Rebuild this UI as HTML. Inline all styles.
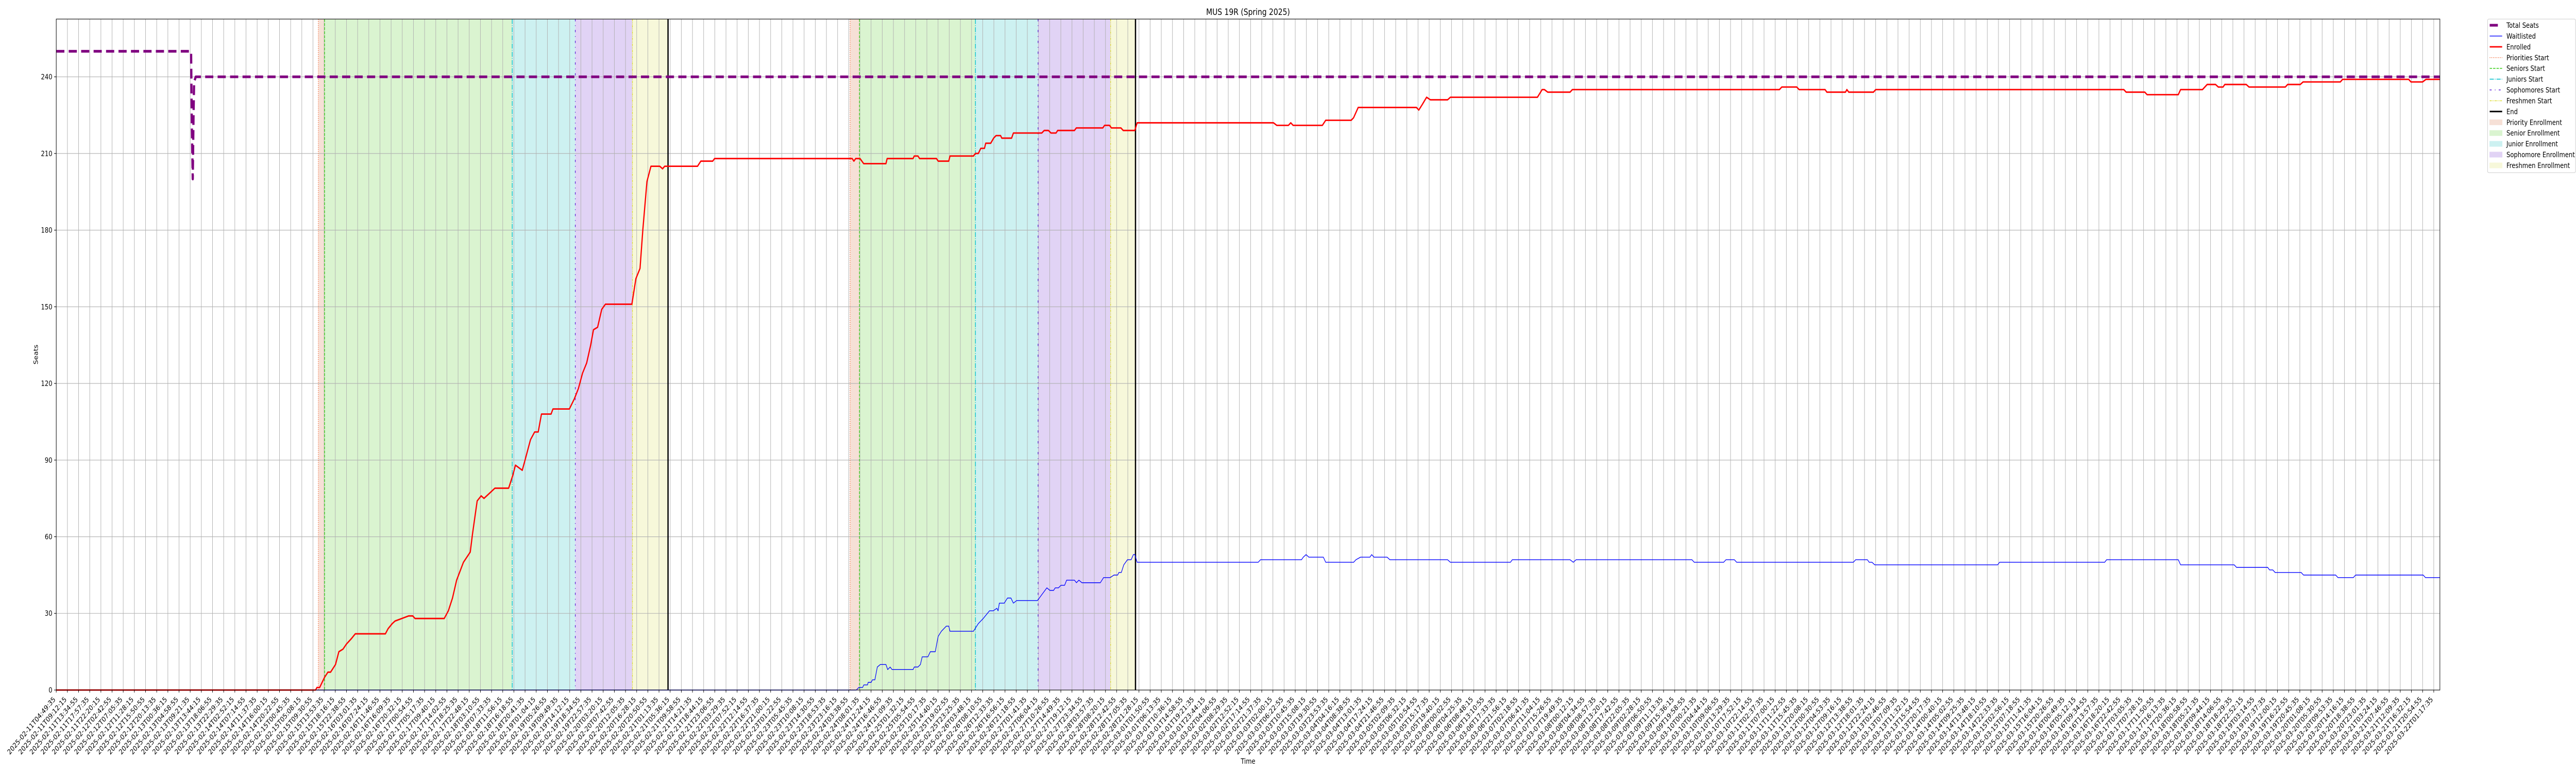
<!DOCTYPE html>
<html><head><meta charset="utf-8"><title>MUS 19R (Spring 2025)</title>
<style>
html,body{margin:0;padding:0;background:#fff;overflow:hidden;width:100%;height:100%;}
svg{display:block;position:absolute;left:0;top:0;width:100vw;height:100vh;overflow:hidden;font-family:"DejaVu Sans","Liberation Sans",sans-serif;}
</style></head>
<body>
<svg id="chart" xmlns="http://www.w3.org/2000/svg" viewBox="0 0 6000 1500" preserveAspectRatio="none">
<rect width="6000" height="1500" fill="#fff"/>
<g id="shades"></g>
<g id="grid"></g>
<g id="vlines"></g>
<g id="series"></g>
<g id="axes"></g>
<text x="2907" y="29" font-size="16.7" text-anchor="middle">MUS 19R (Spring 2025)</text>
<text x="2907" y="1482" font-size="13.9" text-anchor="middle">Time</text>
<text x="0" y="0" font-size="13.9" text-anchor="middle" transform="translate(88,688) rotate(-90)">Seats</text>
<g id="legend"></g>
</svg>
<script>
// ---- data ----
const yTicks = [0,30,60,90,120,150,180,210,240];
const startTime = "2025-02-11T04:49:35";
const tickCount = 214;
const tickStepSeconds = 15760;
const xTickLabels = [];
(function(){
  const t0 = Date.parse(startTime + "Z");
  for (let i = 0; i < tickCount; i++) {
    xTickLabels.push(new Date(t0 + i * tickStepSeconds * 1000).toISOString().slice(0,19));
  }
})();
const seatsIdx = [0,12.08,12.15,12.23,12.3,12.35,12.5,213.55];
const seatsVals = [250,250,220,200,225,238,240,240];
const enrolledIdx = [0,23.23,23.36,23.6,24.04,24.34,24.58,25.02,25.32,25.69,26.0,26.42,26.79,29.49,29.73,30.1,30.35,30.96,31.57,31.94,32.14,34.76,35.13,35.5,35.87,36.48,37.09,37.29,37.71,38.07,38.32,38.81,39.3,40.53,40.9,41.14,41.75,42.0,42.49,42.86,43.18,43.47,44.33,44.5,45.97,46.42,46.78,47.15,47.52,47.88,48.13,48.5,48.87,49.2,49.73,51.57,51.93,52.3,52.55,52.92,53.28,54.07,54.32,54.51,57.45,57.75,58.81,58.98,
71.31,71.46,71.62,72.01,72.34,74.33,74.44,76.76,76.87,77.2,77.35,78.86,79.01,79.96,80.07,82.17,82.35,82.61,82.83,83.16,83.27,83.72,83.98,84.2,84.6,84.71,85.59,85.75,88.29,88.51,88.89,89.12,89.57,89.72,91.22,91.39,93.76,93.92,94.36,94.53,
95.38,95.59,96.63,96.84,109.05,109.35,110.39,110.6,110.81,113.43,113.73,116.02,116.23,116.64,121.86,122.07,122.36,122.77,123.11,124.65,124.9,132.7,133.12,133.32,133.62,135.62,135.83,154.38,154.59,155.93,156.14,158.47,158.63,160.3,160.42,160.59,162.8,163.01,185.23,185.44,187.11,187.32,190.11,190.32,192.28,192.7,193.45,193.7,194.12,194.28,196.2,196.45,199.7,199.91,201.04,201.29,204.63,204.83,210.75,210.96,212.0,212.3,213.55];
const enrolledVals = [0,0,1,1,5,7,7,10,15,16,18,20,22,22,24,26,27,28,29,29,28,28,31,36,43,50,54,61,74,76,75,77,79,79,84,88,86,90,98,101,101,108,108,110,110,114,118,124,128,135,141,142,149,151,151,151,161,165,180,199,205,205,204,205,205,207,207,208,
208,207,208,208,206,206,208,208,209,209,208,208,207,207,209,209,210,210,212,212,214,214,216,217,217,216,216,218,218,219,219,218,218,219,219,220,220,221,221,220,
220,219,219,222,222,221,221,222,221,221,223,223,224,228,228,227,229,232,231,231,232,232,235,235,234,234,235,235,236,236,235,235,234,234,235,234,234,235,235,234,234,233,233,235,235,237,237,236,236,237,237,236,236,237,237,238,238,239,239,238,238,239,239];
const waitIdx = [0,71.68,71.9,72.24,72.35,72.68,72.74,73.01,73.12,73.34,73.56,73.83,74.33,74.49,74.71,74.88,76.76,76.87,77.2,77.42,77.58,78.09,78.31,78.75,79.01,79.3,79.74,79.96,80.07,82.17,82.61,83.05,83.61,83.94,84.27,84.38,84.49,84.93,85.22,85.53,85.75,86.04,87.91,88.24,88.75,89.02,89.35,89.5,89.79,90.01,90.34,90.52,91.22,91.4,91.62,91.89,93.54,93.83,94.42,94.76,95.09,95.2,95.42,95.64,95.97,96.3,96.5,96.63,96.84,107.68,107.89,111.56,111.72,111.97,112.22,113.52,113.73,116.23,116.44,116.85,117.69,117.85,118.06,119.23,119.48,124.65,124.9,130.28,130.45,135.62,135.91,136.16,146.54,146.75,149.38,149.59,150.34,150.55,161.0,161.21,162.26,162.42,162.67,162.92,173.93,174.1,183.52,183.69,190.11,190.32,195.12,195.33,198.12,198.29,198.58,198.79,201.12,201.33,204.21,204.42,205.79,206.0,212.05,212.26,213.55];
const waitVals = [0,0,1,1,2,2,3,3,4,4,9,10,10,8,9,8,8,9,9,10,13,13,15,15,21,23,25,25,23,23,26,28,31,31,32,31,34,34,36,36,34,35,35,37,40,39,39,40,40,41,41,43,43,42,43,42,42,44,44,45,45,46,46,49,51,51,53,53,50,50,51,51,52,53,52,52,50,50,51,52,52,53,52,52,51,51,50,50,51,51,50,51,51,50,50,51,51,50,50,51,51,50,50,49,49,50,50,51,51,49,49,48,48,47,47,46,46,45,45,44,44,45,45,44,44];
const priorityStarts = [23.48,71.12];
const seniorStarts = [24.04,71.96];
const juniorStarts = [40.85,82.35];
const sophomoreStarts = [46.5,87.96];
const freshmenStarts = [51.62,94.46];
const endPoints = [54.81,96.69];

// ---- layout ----
const NS = "http://www.w3.org/2000/svg";
const L = 131, R = 5683, T = 37, B = 1339;
const xMax = 213.55, yMax = 262.6;
function xs(i){ return L + i * (R - L) / xMax; }
function ys(v){ return B - v * (B - T) / yMax; }
function mk(tag, attrs, parent){
  const e = document.createElementNS(NS, tag);
  for (const k in attrs) e.setAttribute(k, attrs[k]);
  parent.appendChild(e);
  return e;
}
const gShade = document.getElementById('shades');
const gGrid = document.getElementById('grid');
const gV = document.getElementById('vlines');
const gS = document.getElementById('series');
const gA = document.getElementById('axes');
const gL = document.getElementById('legend');

const phaseColors = ['#f6e0d6','#daf4d0','#cdf1f1','#e1d3f5','#f7f8da'];
const phaseNames = ['priority-enrollment-span','senior-enrollment-span','junior-enrollment-span','sophomore-enrollment-span','freshmen-enrollment-span'];
const bounds = [priorityStarts, seniorStarts, juniorStarts, sophomoreStarts, freshmenStarts, endPoints];
for (let c = 0; c < 2; c++) {
  for (let p = 0; p < 5; p++) {
    const x0 = xs(bounds[p][c]), x1 = xs(bounds[p+1][c]);
    const r = mk('rect', {x:x0, y:T, width:x1-x0, height:B-T, fill:phaseColors[p]}, gShade);
    
    
  }
}

for (let i = 0; i < tickCount; i++) {
  const x = xs(i);
  const l = mk('line', {x1:x, x2:x, y1:T, y2:B, stroke:'#b0b0b0', 'stroke-width':1.1}, gGrid);
  
  
}
yTicks.forEach(v => {
  const y = ys(v);
  const l = mk('line', {x1:L, x2:R, y1:y, y2:y, stroke:'#b0b0b0', 'stroke-width':1.1}, gGrid);
  
  
});

const vStyles = [
  {arr:priorityStarts, color:'#f26b3a', dash:'1.5,2.5', w:1.5, name:'priorities-start-line'},
  {arr:seniorStarts, color:'#33cc11', dash:'5.5,2.4', w:1.5, name:'seniors-start-line'},
  {arr:juniorStarts, color:'#17c5d0', dash:'9.6,2.4,1.5,2.4', w:1.8, name:'juniors-start-line'},
  {arr:sophomoreStarts, color:'#5d1fd8', dash:'4.5,7.5,1.5,7.5', w:1.5, name:'sophomores-start-line'},
  {arr:freshmenStarts, color:'#dede30', dash:'4.5,1.5,1.5,1.5,1.5,1.5', w:1.5, name:'freshmen-start-line'},
  {arr:endPoints, color:'#000', dash:'', w:3, name:'end-line'}
];
vStyles.forEach(s => {
  s.arr.forEach(v => {
    const x = xs(v);
    const l = mk('line', {x1:x, x2:x, y1:T, y2:B, stroke:s.color, 'stroke-width':s.w}, gV);
    if (s.dash) l.setAttribute('stroke-dasharray', s.dash);
    
    
  });
});

function pts(ix, vals){ return ix.map((i,k) => xs(i).toFixed(2) + ',' + ys(vals[k]).toFixed(2)).join(' '); }
const seatsLine = mk('polyline', {points:pts(seatsIdx, seatsVals), fill:'none', stroke:'#800080', 'stroke-width':5.2, 'stroke-dasharray':'19,10', 'stroke-linejoin':'round'}, gS);


const waitLine = mk('polyline', {points:pts(waitIdx, waitVals), fill:'none', stroke:'#0000ff', 'stroke-width':1.4, 'stroke-linejoin':'round'}, gS);


const enrLine = mk('polyline', {points:pts(enrolledIdx, enrolledVals), fill:'none', stroke:'#ff0000', 'stroke-width':2.8, 'stroke-linejoin':'round'}, gS);



const frame = mk('rect', {x:L, y:T, width:R-L, height:B-T, fill:'none', stroke:'#000', 'stroke-width':1.1}, gA);


yTicks.forEach(v => {
  const y = ys(v);
  const t = mk('line', {x1:L-4.9, x2:L, y1:y, y2:y, stroke:'#000', 'stroke-width':1.1}, gA);
  
  
  const tx = mk('text', {x:L-9, y:y+5, 'font-size':13.9, 'text-anchor':'end'}, gA);
  tx.textContent = String(v);
  
  
});
xTickLabels.forEach((lab, i) => {
  const x = xs(i);
  const t = mk('line', {x1:x, x2:x, y1:B, y2:B+4.9, stroke:'#000', 'stroke-width':1.1}, gA);
  
  
  const tx = mk('text', {x:0, y:0, 'font-size':13.9, 'text-anchor':'end', transform:'translate(' + (x-1) + ',' + (B+19) + ') rotate(-45)'}, gA);
  tx.textContent = lab;
  
  
});

const lbox = mk('rect', {x:5794, y:37, width:205, height:298, rx:3, fill:'#fff', 'fill-opacity':0.8, stroke:'#cccccc', 'stroke-width':1.1}, gL);


const legendLabels = ['Total Seats','Waitlisted','Enrolled','Priorities Start','Seniors Start','Juniors Start','Sophomores Start','Freshmen Start','End','Priority Enrollment','Senior Enrollment','Junior Enrollment','Sophomore Enrollment','Freshmen Enrollment'];
const legendHandles = [
  {c:'#800080', w:5.2, d:'19,10'}, {c:'#0000ff', w:1.4, d:''}, {c:'#ff0000', w:2.8, d:''},
  {c:'#f26b3a', w:1.5, d:'1.5,2.5'}, {c:'#33cc11', w:1.5, d:'5.5,2.4'}, {c:'#17c5d0', w:1.8, d:'9.6,2.4,1.5,2.4'},
  {c:'#5d1fd8', w:1.5, d:'4.5,7.5,1.5,7.5'}, {c:'#dede30', w:1.5, d:'4.5,1.5,1.5,1.5,1.5,1.5'}, {c:'#000', w:3, d:''},
  {p:phaseColors[0]}, {p:phaseColors[1]}, {p:phaseColors[2]}, {p:phaseColors[3]}, {p:phaseColors[4]}
];
legendLabels.forEach((lab, i) => {
  const cy = 49 + i * 20.92;
  const h = legendHandles[i];
  let el;
  if (h.p) {
    el = mk('rect', {x:5799, y:cy-5, width:29, height:10, fill:h.p, stroke:h.p, 'stroke-width':1}, gL);
  } else {
    el = mk('line', {x1:5799, x2:5828, y1:cy, y2:cy, stroke:h.c, 'stroke-width':h.w}, gL);
    if (h.d) el.setAttribute('stroke-dasharray', h.d);
  }
  
  
  const tx = mk('text', {x:5838, y:cy+5, 'font-size':13.9}, gL);
  tx.textContent = lab;
  
  
});
</script>
</body></html>
